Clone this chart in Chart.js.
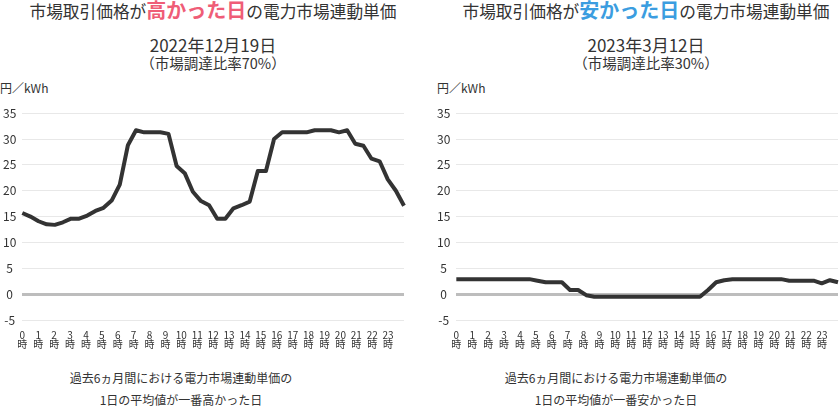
<!DOCTYPE html>
<html>
<head>
<meta charset="utf-8">
<script src="https://cdn.jsdelivr.net/npm/chart.js@4.4.1/dist/chart.umd.min.js"></script>
<style>
  body { margin: 0; width: 840px; height: 410px; position: relative; overflow: hidden;
         background: #fff; color: #333; font-family: "Noto Sans CJK JP", "Noto Sans", sans-serif; }
  .t { position: absolute; white-space: nowrap; text-align: center; }
  .title { font-size: 16.7px; line-height: 24px; top: -2px; width: 420px; }
  .title b { font-size: 20px; }
  .date { font-size: 17px; line-height: 24px; top: 33px; width: 300px; }
  .sub { font-size: 14.5px; line-height: 18px; top: 54px; width: 300px; }
  .unit { font-size: 12px; line-height: 16px; top: 80px; text-align: left; }
  .cap { font-size: 12px; line-height: 22px; top: 367px; width: 300px; }
  canvas { position: absolute; }
</style>
</head>
<body>
  <div class="t title" style="left:3px">市場取引価格が<b style="color:#ef5d77">高かった日</b>の電力市場連動単価</div>
  <div class="t date" style="left:63px">2022年12月19日</div>
  <div class="t sub" style="left:63px">（市場調達比率70%）</div>
  <div class="t unit" style="left:0px">円／kWh</div>
  <div class="t cap" style="left:31px">過去6ヵ月間における電力市場連動単価の<br>1日の平均値が一番高かった日</div>

  <div class="t title" style="left:436px">市場取引価格が<b style="color:#3b9de0">安かった日</b>の電力市場連動単価</div>
  <div class="t date" style="left:496px">2023年3月12日</div>
  <div class="t sub" style="left:496px">（市場調達比率30%）</div>
  <div class="t unit" style="left:437px">円／kWh</div>
  <div class="t cap" style="left:466px">過去6ヵ月間における電力市場連動単価の<br>1日の平均値が一番安かった日</div>

  <canvas id="high" width="415" height="251" style="left:-3px;top:100px"></canvas>
  <canvas id="low" width="409" height="251" style="left:431px;top:100px"></canvas>

<script>
  // 30-minute slots, 0:00 .. 23:30 (48 per day)
  const hourLabels = ['0', '1', '2', '3', '4', '5', '6', '7', '8', '9', '10', '11',
                      '12', '13', '14', '15', '16', '17', '18', '19', '20', '21', '22', '23'];

  // 2022-12-19 (円/kWh)
  const highDayPrices = [
    15.7, 15.0, 14.1, 13.5, 13.4, 13.9, 14.6, 14.6, 15.2, 16.1, 16.7, 18.1,
    21.2, 28.8, 31.7, 31.3, 31.3, 31.3, 31.0, 24.8, 23.4, 19.8, 18.0, 17.2,
    14.6, 14.6, 16.6, 17.2, 17.9, 23.8, 23.8, 30.0, 31.3, 31.3, 31.3, 31.3,
    31.7, 31.7, 31.7, 31.3, 31.7, 29.1, 28.7, 26.2, 25.7, 22.2, 20.0, 17.1
  ];

  // 2023-03-12 (円/kWh)
  const lowDayPrices = [
    2.9, 2.9, 2.9, 2.9, 2.9, 2.9, 2.9, 2.9, 2.9, 2.9, 2.6, 2.3,
    2.3, 2.3, 0.8, 0.8, -0.2, -0.5, -0.5, -0.5, -0.5, -0.5, -0.5, -0.5,
    -0.5, -0.5, -0.5, -0.5, -0.5, -0.5, -0.5, 0.8, 2.3, 2.7, 2.9, 2.9,
    2.9, 2.9, 2.9, 2.9, 2.9, 2.6, 2.6, 2.6, 2.6, 2.1, 2.7, 2.3
  ];

  const yTicks = { min: -5, max: 35, step: 5 };
  const FONT = '"Noto Sans CJK JP", "Noto Sans", sans-serif';

  function makePanel(canvas, values, padRight) {
    const lastSlot = values.length - 1;
    return new Chart(canvas, {
      type: 'line',
      data: {
        datasets: [{
          data: values.map((v, i) => ({ x: i, y: v })),
          borderColor: '#333333',
          borderWidth: 4,
          pointRadius: 0,
          tension: 0,
          borderJoinStyle: 'round',
          clip: false,
        }],
      },
      options: {
        responsive: false,
        animation: false,
        layout: { padding: { left: 0, right: padRight, top: 5, bottom: 0 } },
        plugins: { legend: { display: false }, tooltip: { enabled: false } },
        scales: {
          x: {
            type: 'linear',
            min: 0,
            max: lastSlot,
            grid: { display: false },
            border: { display: false },
            // hour labels spread evenly over the width (24 slots across the axis)
            afterBuildTicks: (axis) => {
              axis.ticks = hourLabels.map((_, h) => ({ value: h * lastSlot / hourLabels.length }));
            },
            ticks: {
              autoSkip: false,
              maxRotation: 0,
              padding: 2,
              color: '#333',
              font: { family: FONT, size: 10, lineHeight: 0.95 },
              callback: (v, idx) => [hourLabels[idx], '時'],
            },
          },
          y: {
            min: yTicks.min,
            max: yTicks.max,
            border: { display: false },
            grid: {
              drawTicks: false,
              color: (ctx) => ctx.tick.value === 0 ? '#bdbdbd' : '#e8e8e8',
              lineWidth: (ctx) => ctx.tick.value === 0 ? 3 : 1,
            },
            ticks: {
              stepSize: yTicks.step,
              padding: 6,
              crossAlign: 'center',
              color: '#333',
              font: { family: FONT, size: 12 },
            },
          },
        },
      },
    });
  }

  makePanel(document.getElementById('high'), highDayPrices, 8);
  makePanel(document.getElementById('low'), lowDayPrices, 2);
</script>
</body>
</html>
